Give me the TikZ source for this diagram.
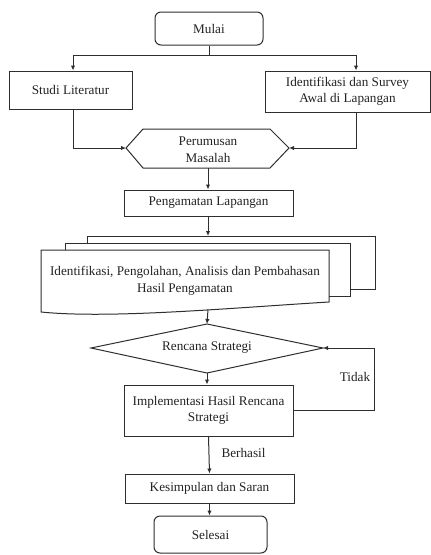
\documentclass[tikz,border=0pt]{standalone}
\usepackage{fontspec}
\setmainfont{Liberation Serif}
\usetikzlibrary{arrows.meta}
\definecolor{lc}{HTML}{2E2E2E}
\definecolor{tc}{HTML}{222222}
\begin{document}
\begin{tikzpicture}[x=1pt,y=-1pt,
  every node/.style={font=\fontsize{13.2}{16.5}\selectfont, text=tc},
  box/.style={draw=lc, line width=1pt, align=center, inner sep=0pt},
  rbox/.style={box, rounded corners=6pt},
  lbl/.style={inner sep=0pt, align=center},
  ln/.style={draw=lc, line width=1pt},
  arr/.style={ln, -{Latex[length=5pt,width=4.5pt]}}]
\useasboundingbox (0,0) rectangle (431,555);
% nodes
\node[rbox, minimum width=108pt, minimum height=33pt] (mulai) at (209,28.5) {Mulai};
\node[box, minimum width=123pt, minimum height=38pt] (studi) at (70.5,90) {Studi Literatur};
\node[box, minimum width=165pt, minimum height=41pt] (ident) at (347.5,91.5) {Identifikasi dan Survey\\Awal di Lapangan};
% hexagon
\coordinate (hexL) at (126,148);
\coordinate (hexR) at (289,148);
\coordinate (hexB) at (208,168);
\draw[ln] (hexL) -- (143,129) -- (270,129) -- (hexR) -- (270,168) -- (143,168) -- cycle;
\node[lbl] (rumus) at (208,149.5) {Perumusan\\Masalah};
\node[box, minimum width=169pt, minimum height=26pt] (peng) at (208.5,203) {Pengamatan Lapangan};
% multi document
\coordinate (docTop) at (208,236);
\coordinate (docBot) at (208,309.5);
\draw[ln] (87,243) -- (87,236) -- (375,236) -- (375,289) -- (350,289);
\draw[ln] (65,250) -- (65,243) -- (350,243) -- (350,296) -- (329,296);
\draw[ln] (41,250) -- (329,250) -- (329,302) .. controls (230,308) and (110,319) .. (41,312) -- cycle;
\node[lbl] (doc) at (185,281) {Identifikasi, Pengolahan, Analisis dan Pembahasan\\Hasil Pengamatan};
% diamond
\coordinate (diaT) at (207,324);
\coordinate (diaL) at (91,348);
\coordinate (diaR) at (323,348);
\coordinate (diaB) at (207,373);
\draw[ln] (diaT) -- (diaR) -- (diaB) -- (diaL) -- cycle;
\node[lbl] (renc) at (207,348) {Rencana Strategi};
\node[box, minimum width=169pt, minimum height=51pt] (impl) at (208.5,410.5) {Implementasi Hasil Rencana\\Strategi};
\node[box, minimum width=169pt, minimum height=29pt] (kes) at (209.5,488.5) {Kesimpulan dan Saran};
\node[rbox, minimum width=113pt, minimum height=37pt] (sel) at (210.5,534.5) {Selesai};
% connectors
\coordinate (split) at (209,55);
\coordinate (loopX) at (374,380);
\draw[ln] (mulai.south) -- (split);
\draw[arr] (split) -| ([xshift=2.5pt]studi.north);
\draw[arr] (split) -| ([xshift=8.5pt]ident.north);
\draw[arr] ([xshift=2.5pt]studi.south) |- (hexL);
\draw[arr] ([xshift=8.5pt]ident.south) |- (hexR);
\draw[arr] (hexB) -- (hexB |- peng.north);
\draw[arr] (peng.south -| docTop) -- (docTop);
\draw[arr] (docBot) -- (diaT);
\draw[arr] (diaB) -- (diaB |- impl.north);
\draw[arr] (impl.east) -- (impl.east -| loopX) |- (diaR);
\node[lbl] (tidak) at (355,377) {Tidak};
\draw[arr] (impl.south) -- (kes.north);
\node[lbl] (berhasil) at (243.5,453) {Berhasil};
\draw[arr] (kes.south) -- (kes.south |- sel.north);
\end{tikzpicture}
\end{document}
